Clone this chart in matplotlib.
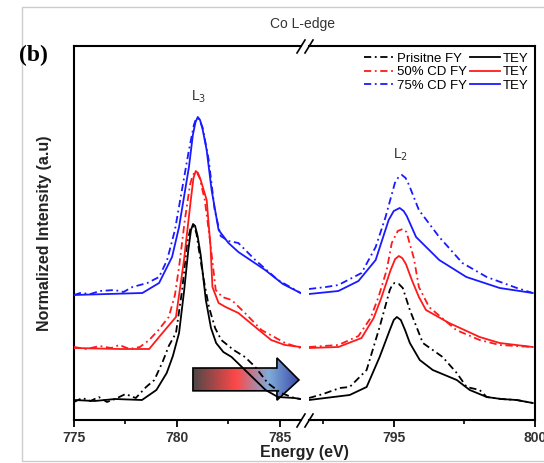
"""Co L-edge XAS, FY and TEY, with a broken energy axis."""
import numpy as np
import matplotlib
matplotlib.use("Agg")
import matplotlib.pyplot as plt
from matplotlib.colors import LinearSegmentedColormap
from matplotlib.patches import Polygon, Rectangle
from matplotlib.lines import Line2D

plt.rcParams['font.family'] = ['Liberation Sans', 'DejaVu Sans']

# ---- data: L3 region (left) ----
bk_fy_e3 = [775.0, 775.4, 775.8, 776.2, 776.6, 777.0, 777.5, 778.0, 778.5, 778.9, 779.3, 779.6,
            779.95, 780.25, 780.5, 780.65, 780.75, 780.85, 780.95, 781.05, 781.3, 781.55, 781.85,
            782.15, 782.75, 783.3, 783.8, 784.4, 785.05, 785.7, 786.0]
bk_fy_i3 = [0.18, 0.22, 0.19, 0.23, 0.18, 0.21, 0.26, 0.22, 0.33, 0.40, 0.58, 0.74,
            0.87, 1.30, 1.78, 1.91, 1.94, 1.93, 1.86, 1.72, 1.40, 1.13, 0.92,
            0.80, 0.70, 0.63, 0.53, 0.37, 0.27, 0.22, 0.21]
bk_tey_e3 = [775.0, 776.0, 777.0, 778.3, 779.0, 779.5, 779.8, 780.1, 780.35, 780.55, 780.68,
             780.78, 780.88, 781.0, 781.15, 781.4, 781.65, 781.9, 782.25, 782.65, 783.45, 784.3,
             784.9, 785.7, 786.0]
bk_tey_i3 = [0.20, 0.19, 0.21, 0.20, 0.30, 0.47, 0.64, 0.87, 1.30, 1.70, 1.90,
             1.96, 1.94, 1.84, 1.65, 1.20, 0.92, 0.77, 0.68, 0.63, 0.47, 0.30,
             0.23, 0.22, 0.21]
rd_fy_e3 = [775.0, 775.6, 776.25, 776.8, 777.2, 777.7, 778.2, 778.65, 779.1, 779.6, 779.9, 780.1,
            780.38, 780.63, 780.75, 780.87, 780.98, 781.1, 781.35, 781.6, 781.88, 782.2, 782.65,
            783.3, 784.1, 785.25, 786.0]
rd_fy_i3 = [0.73, 0.71, 0.74, 0.72, 0.75, 0.71, 0.73, 0.80, 0.90, 1.03, 1.25, 1.53,
            2.00, 2.35, 2.44, 2.48, 2.47, 2.42, 2.20, 1.80, 1.30, 1.23, 1.20,
            1.07, 0.90, 0.77, 0.72]
rd_tey_e3 = [775.0, 777.2, 778.65, 779.13, 779.62, 779.95, 780.34, 780.67, 780.8, 780.91, 781.02,
             781.15, 781.44, 781.63, 781.72, 782.02, 782.36, 782.98, 783.8, 784.57, 785.24, 786.0]
rd_tey_i3 = [0.72, 0.71, 0.71, 0.83, 0.95, 1.03, 1.60, 2.20, 2.42, 2.49, 2.47,
             2.40, 2.20, 1.73, 1.33, 1.17, 1.13, 1.07, 0.93, 0.80, 0.75, 0.73]
bl_fy_e3 = [775.0, 775.3, 775.8, 776.25, 776.97, 777.4, 777.84, 778.56, 779.13, 779.52, 779.9,
            780.24, 780.58, 780.82, 780.92, 781.01, 781.12, 781.25, 781.54, 781.83, 782.12,
            782.5, 782.98, 783.46, 783.8, 784.9, 786.0]
bl_fy_i3 = [1.25, 1.27, 1.26, 1.29, 1.30, 1.28, 1.33, 1.37, 1.43, 1.60, 1.90,
            2.30, 2.70, 2.95, 3.01, 3.02, 2.99, 2.92, 2.60, 2.10, 1.84,
            1.79, 1.77, 1.67, 1.60, 1.40, 1.27]
bl_tey_e3 = [775.0, 778.32, 779.13, 779.76, 780.1, 780.34, 780.58, 780.77, 780.9, 781.01, 781.12,
             781.25, 781.44, 781.68, 782.02, 782.5, 782.98, 784.28, 785.14, 786.0]
bl_tey_i3 = [1.25, 1.27, 1.37, 1.63, 1.93, 2.23, 2.53, 2.85, 2.98, 3.03, 3.00,
             2.90, 2.70, 2.30, 1.90, 1.77, 1.68, 1.50, 1.36, 1.27]

# ---- data: L2 region (right) ----
bk_fy_e2 = [792.0, 792.5, 793.09, 793.44, 794.04, 794.5, 794.86, 794.96, 795.04, 795.18, 795.32,
            795.57, 796.03, 796.73, 797.23, 797.58, 798.04, 798.29, 798.8, 799.35, 799.92]
bk_fy_i2 = [0.22, 0.26, 0.32, 0.33, 0.50, 0.93, 1.30, 1.36, 1.37, 1.36, 1.32,
            1.10, 0.77, 0.63, 0.47, 0.33, 0.30, 0.23, 0.21, 0.20, 0.17]
bk_tey_e2 = [792.0, 793.44, 794.04, 794.5, 794.86, 795.0, 795.11, 795.25, 795.4, 795.57, 795.92,
             796.38, 797.23, 797.69, 798.29, 798.8, 799.35, 799.92]
bk_tey_i2 = [0.20, 0.25, 0.33, 0.63, 0.90, 1.00, 1.03, 1.00, 0.90, 0.77, 0.60,
             0.50, 0.40, 0.30, 0.23, 0.21, 0.20, 0.17]
rd_fy_e2 = [792.0, 793.04, 793.75, 794.18, 794.46, 794.75, 794.93, 795.14, 795.32, 795.45,
            795.71, 795.89, 796.25, 797.21, 798.04, 798.75, 799.92]
rd_fy_i2 = [0.73, 0.75, 0.84, 1.02, 1.23, 1.50, 1.77, 1.89, 1.91, 1.88,
            1.62, 1.33, 1.13, 0.90, 0.80, 0.75, 0.73]
rd_tey_e2 = [792.0, 793.04, 793.86, 794.29, 794.57, 794.89, 795.05, 795.18, 795.3, 795.43, 795.64,
             795.89, 796.14, 796.96, 798.04, 798.75, 799.92]
rd_tey_i2 = [0.72, 0.73, 0.82, 1.02, 1.23, 1.50, 1.61, 1.64, 1.62, 1.56, 1.40,
             1.23, 1.10, 0.97, 0.83, 0.77, 0.73]
bl_fy_e2 = [792.0, 792.6, 793.04, 793.86, 794.36, 794.71, 795.04, 795.17, 795.29, 795.42, 795.54,
            795.89, 796.61, 797.43, 798.29, 799.36, 799.92]
bl_fy_i2 = [1.31, 1.33, 1.35, 1.47, 1.73, 2.03, 2.37, 2.43, 2.45, 2.42, 2.35,
            2.10, 1.83, 1.57, 1.43, 1.32, 1.27]
bl_tey_e2 = [792.0, 793.04, 793.75, 794.36, 794.82, 795.0, 795.21, 795.35, 795.46, 795.79, 796.61,
             797.57, 798.75, 799.92]
bl_tey_i2 = [1.26, 1.29, 1.39, 1.60, 2.00, 2.09, 2.12, 2.09, 2.04, 1.83, 1.60,
             1.43, 1.32, 1.27]

fy_labels = ['Prisitne FY', '50% CD FY', '75% CD FY']
colors = ['black', '#ff1a1a', '#1a1aff']

W, H = 544, 463
fig = plt.figure(figsize=(W / 100, H / 100), dpi=100)


def fx(px):
    return px / W


def fy(py):
    return 1 - py / H


axL = fig.add_axes([fx(74), fy(420), (301 - 74) / W, (420 - 46) / H])
axR = fig.add_axes([fx(309), fy(420), (535 - 309) / W, (420 - 46) / H])

dashdot = (0, (4, 2, 1, 2))
left_sets = [(bk_fy_e3, bk_fy_i3, bk_tey_e3, bk_tey_i3),
             (rd_fy_e3, rd_fy_i3, rd_tey_e3, rd_tey_i3),
             (bl_fy_e3, bl_fy_i3, bl_tey_e3, bl_tey_i3)]
right_sets = [(bk_fy_e2, bk_fy_i2, bk_tey_e2, bk_tey_i2),
              (rd_fy_e2, rd_fy_i2, rd_tey_e2, rd_tey_i2),
              (bl_fy_e2, bl_fy_i2, bl_tey_e2, bl_tey_i2)]
fy_handles, tey_handles = [], []
for c, (a, b, d, e) in zip(colors, left_sets):
    h1, = axL.plot(a, b, color=c, lw=1.3, ls=dashdot, zorder=3)
    h2, = axL.plot(d, e, color=c, lw=1.3, zorder=3)
    fy_handles.append(h1)
    tey_handles.append(h2)
for c, (a, b, d, e) in zip(colors, right_sets):
    axR.plot(a, b, color=c, lw=1.3, ls=dashdot, zorder=3)
    axR.plot(d, e, color=c, lw=1.3, zorder=3)

# gradient arrow
arrow_pts = [(0.524, 0.078), (0.524, 0.139), (0.894, 0.139), (0.894, 0.166),
             (0.991, 0.107), (0.894, 0.053), (0.894, 0.078)]
cmap = LinearSegmentedColormap.from_list(
    'arr', [(0, '#4f4848'), (0.4, '#ff4747'), (0.71, '#80acd9'), (1, '#3848a8')])
poly = Polygon(arrow_pts, closed=True, transform=axL.transAxes, fc='none', ec='black',
               lw=1.2, zorder=2.1, clip_on=False)
img = axL.imshow(np.linspace(0, 1, 256).reshape(1, -1), cmap=cmap, aspect='auto',
                 extent=[0.524, 0.991, 0.053, 0.166], transform=axL.transAxes, zorder=2)
axL.add_patch(poly)
img.set_clip_path(poly)

axL.set_xlim(775, 786.02)
axR.set_xlim(792.0, 800)
for ax in (axL, axR):
    ax.set_ylim(0, 3.74)
    ax.tick_params(axis='y', left=False, right=False, labelleft=False)
    ax.tick_params(axis='x', which='major', direction='out', length=5, width=1.3,
                   labelsize=10, labelcolor='#333333', pad=3)
    ax.tick_params(axis='x', which='minor', direction='out', length=3, width=1.2)
    for s in ax.spines.values():
        s.set_linewidth(1.5)
axL.spines['right'].set_visible(False)
axR.spines['left'].set_visible(False)
axL.set_xticks([775, 780, 785])
axL.set_xticks([777.5, 782.5], minor=True)
axR.set_xticks([795, 800])
axR.set_xticks([792.5, 797.5], minor=True)
for ax in (axL, axR):
    for t in ax.get_xticklabels():
        t.set_fontweight('bold')

axR.legend(fy_handles + tey_handles, fy_labels + ['TEY'] * 3, ncol=2, loc='upper right',
           bbox_to_anchor=(1.0, 1.0), frameon=False, fontsize=9.5, handlelength=2.3,
           handletextpad=0.2, columnspacing=0.2, labelspacing=0.1, borderaxespad=0.3,
           borderpad=0.2)

# break marks
for x0 in (297, 305):
    for ytop in (40, 414):
        fig.add_artist(Line2D([fx(x0), fx(x0 + 8)], [fy(ytop + 13), fy(ytop)],
                              color='black', lw=1.2))

# texts
fig.text(fx(33), fy(55), '(b)', family='Liberation Serif', fontweight='bold', fontsize=17,
         ha='center', va='center')
fig.text(fx(303), fy(24), 'Co L-edge', fontsize=10, color='#333333', ha='center', va='center')
fig.text(fx(199), fy(97), r'L$_3$', fontsize=10, color='#333333', ha='center', va='center')
fig.text(fx(401), fy(155), r'L$_2$', fontsize=10, color='#333333', ha='center', va='center')
fig.text(fx(45), fy(233), 'Normalized Intensity (a.u)', fontsize=11.5, fontweight='bold',
         rotation=90, ha='center', va='center', color='#222222')
fig.text(fx(304), fy(452), 'Energy (eV)', fontsize=11.5, fontweight='bold',
         ha='center', va='center', color='#222222')

# light outer frame
fig.add_artist(Rectangle((fx(22), fy(461)), (W - 20) / W, (461 - 7) / H,
                         transform=fig.transFigure, fill=False, ec='#cccccc', lw=1))

fig.savefig('out.png', dpi=100)
